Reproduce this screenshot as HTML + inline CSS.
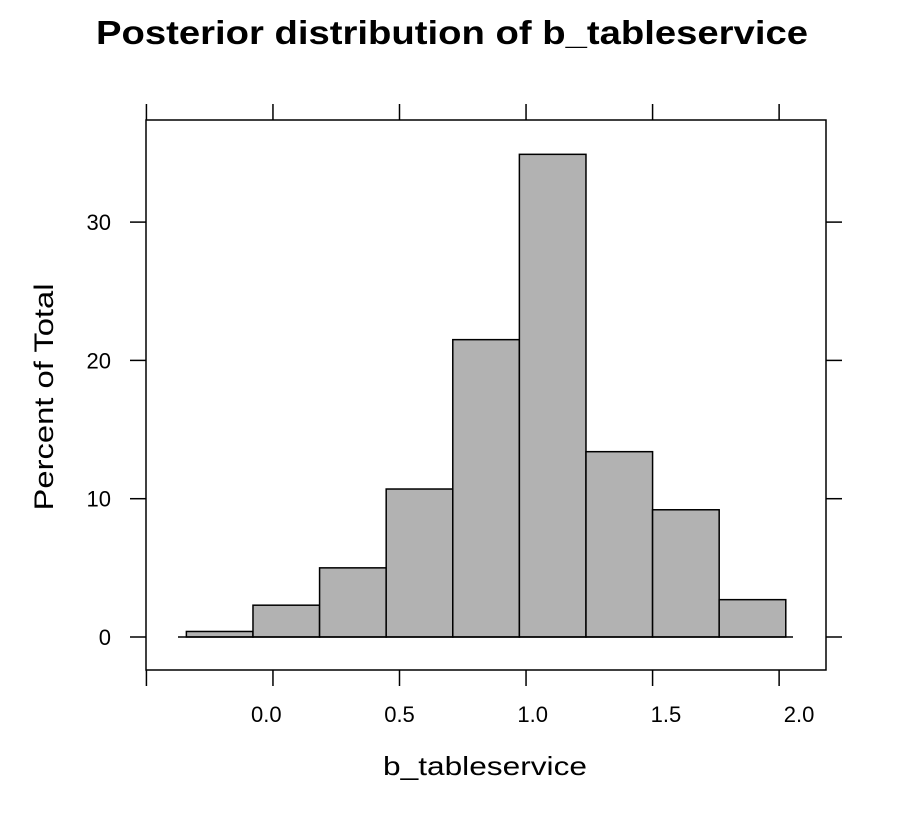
<!DOCTYPE html>
<html><head><meta charset="utf-8"><style>
html,body{margin:0;padding:0;background:#fff;}
svg{display:block;font-family:"Liberation Sans",Arial,sans-serif;}
</style></head><body>
<svg id="chart" width="904" height="822" viewBox="0 0 904 822">
<text x="452" y="44" text-anchor="middle" font-size="33" font-weight="bold" textLength="712" lengthAdjust="spacingAndGlyphs">Posterior distribution of b_tableservice</text>
<text x="485" y="775" text-anchor="middle" font-size="26" textLength="204" lengthAdjust="spacingAndGlyphs">b_tableservice</text>
<text transform="translate(53,397) rotate(-90)" text-anchor="middle" font-size="27" textLength="227" lengthAdjust="spacingAndGlyphs">Percent of Total</text>
<g id="bars"></g>
<g id="axes"></g>
</svg>
<script>
const binEdges = [-0.3, -0.05, 0.2, 0.45, 0.7, 0.95, 1.2, 1.45, 1.7, 1.95];
const percents = [0.4, 2.3, 5.0, 10.7, 21.5, 34.9, 13.4, 9.2, 2.7];
const xTickValues = [0.0, 0.5, 1.0, 1.5, 2.0];
const xTickLabels = ["0.0", "0.5", "1.0", "1.5", "2.0"];
const yTickValues = [0, 10, 20, 30];
const yTickLabels = ["0", "10", "20", "30"];
const extraTickValues = [-0.45, 0.025, 0.5, 0.975, 1.45, 1.925];

const NS = "http://www.w3.org/2000/svg";
const xs = v => 266.3 + v * 266.4;
const ys = v => 637 - v * 13.83;
function mk(tag, attrs, parent){const e=document.createElementNS(NS,tag);for(const k in attrs)e.setAttribute(k,attrs[k]);parent.appendChild(e);return e;}
const bars = document.getElementById('bars');
const axes = document.getElementById('axes');

percents.forEach((p,i)=>{
  const x0=xs(binEdges[i]), x1=xs(binEdges[i+1]);
  const r=mk('rect',{x:x0,y:ys(p),width:x1-x0,height:ys(0)-ys(p),fill:'#b2b2b2',stroke:'#000','stroke-width':1.5},bars);
  
  
});
const bl=mk('line',{x1:178,x2:793,y1:ys(0),y2:ys(0),stroke:'#000','stroke-width':1.5},bars);



const box=mk('rect',{x:146,y:120,width:680,height:550,fill:'none',stroke:'#000','stroke-width':1.5},axes);



extraTickValues.forEach(v=>{
  const x=xs(v);
  mk('line',{x1:x,x2:x,y1:104,y2:120,stroke:'#000','stroke-width':1.5},axes);
  mk('line',{x1:x,x2:x,y1:670,y2:686,stroke:'#000','stroke-width':1.5},axes);
});
xTickValues.forEach((v,i)=>{
  const t=mk('text',{x:xs(v),y:722,'text-anchor':'middle','font-size':22},axes);
  t.textContent=xTickLabels[i];
  
  
});
yTickValues.forEach((v,i)=>{
  const y=ys(v);
  mk('line',{x1:130,x2:146,y1:y,y2:y,stroke:'#000','stroke-width':1.5},axes);
  mk('line',{x1:826,x2:842,y1:y,y2:y,stroke:'#000','stroke-width':1.5},axes);
  const t=mk('text',{x:111,y:y+8,'text-anchor':'end','font-size':22},axes);
  t.textContent=yTickLabels[i];
  
  
});
</script>
</body></html>
